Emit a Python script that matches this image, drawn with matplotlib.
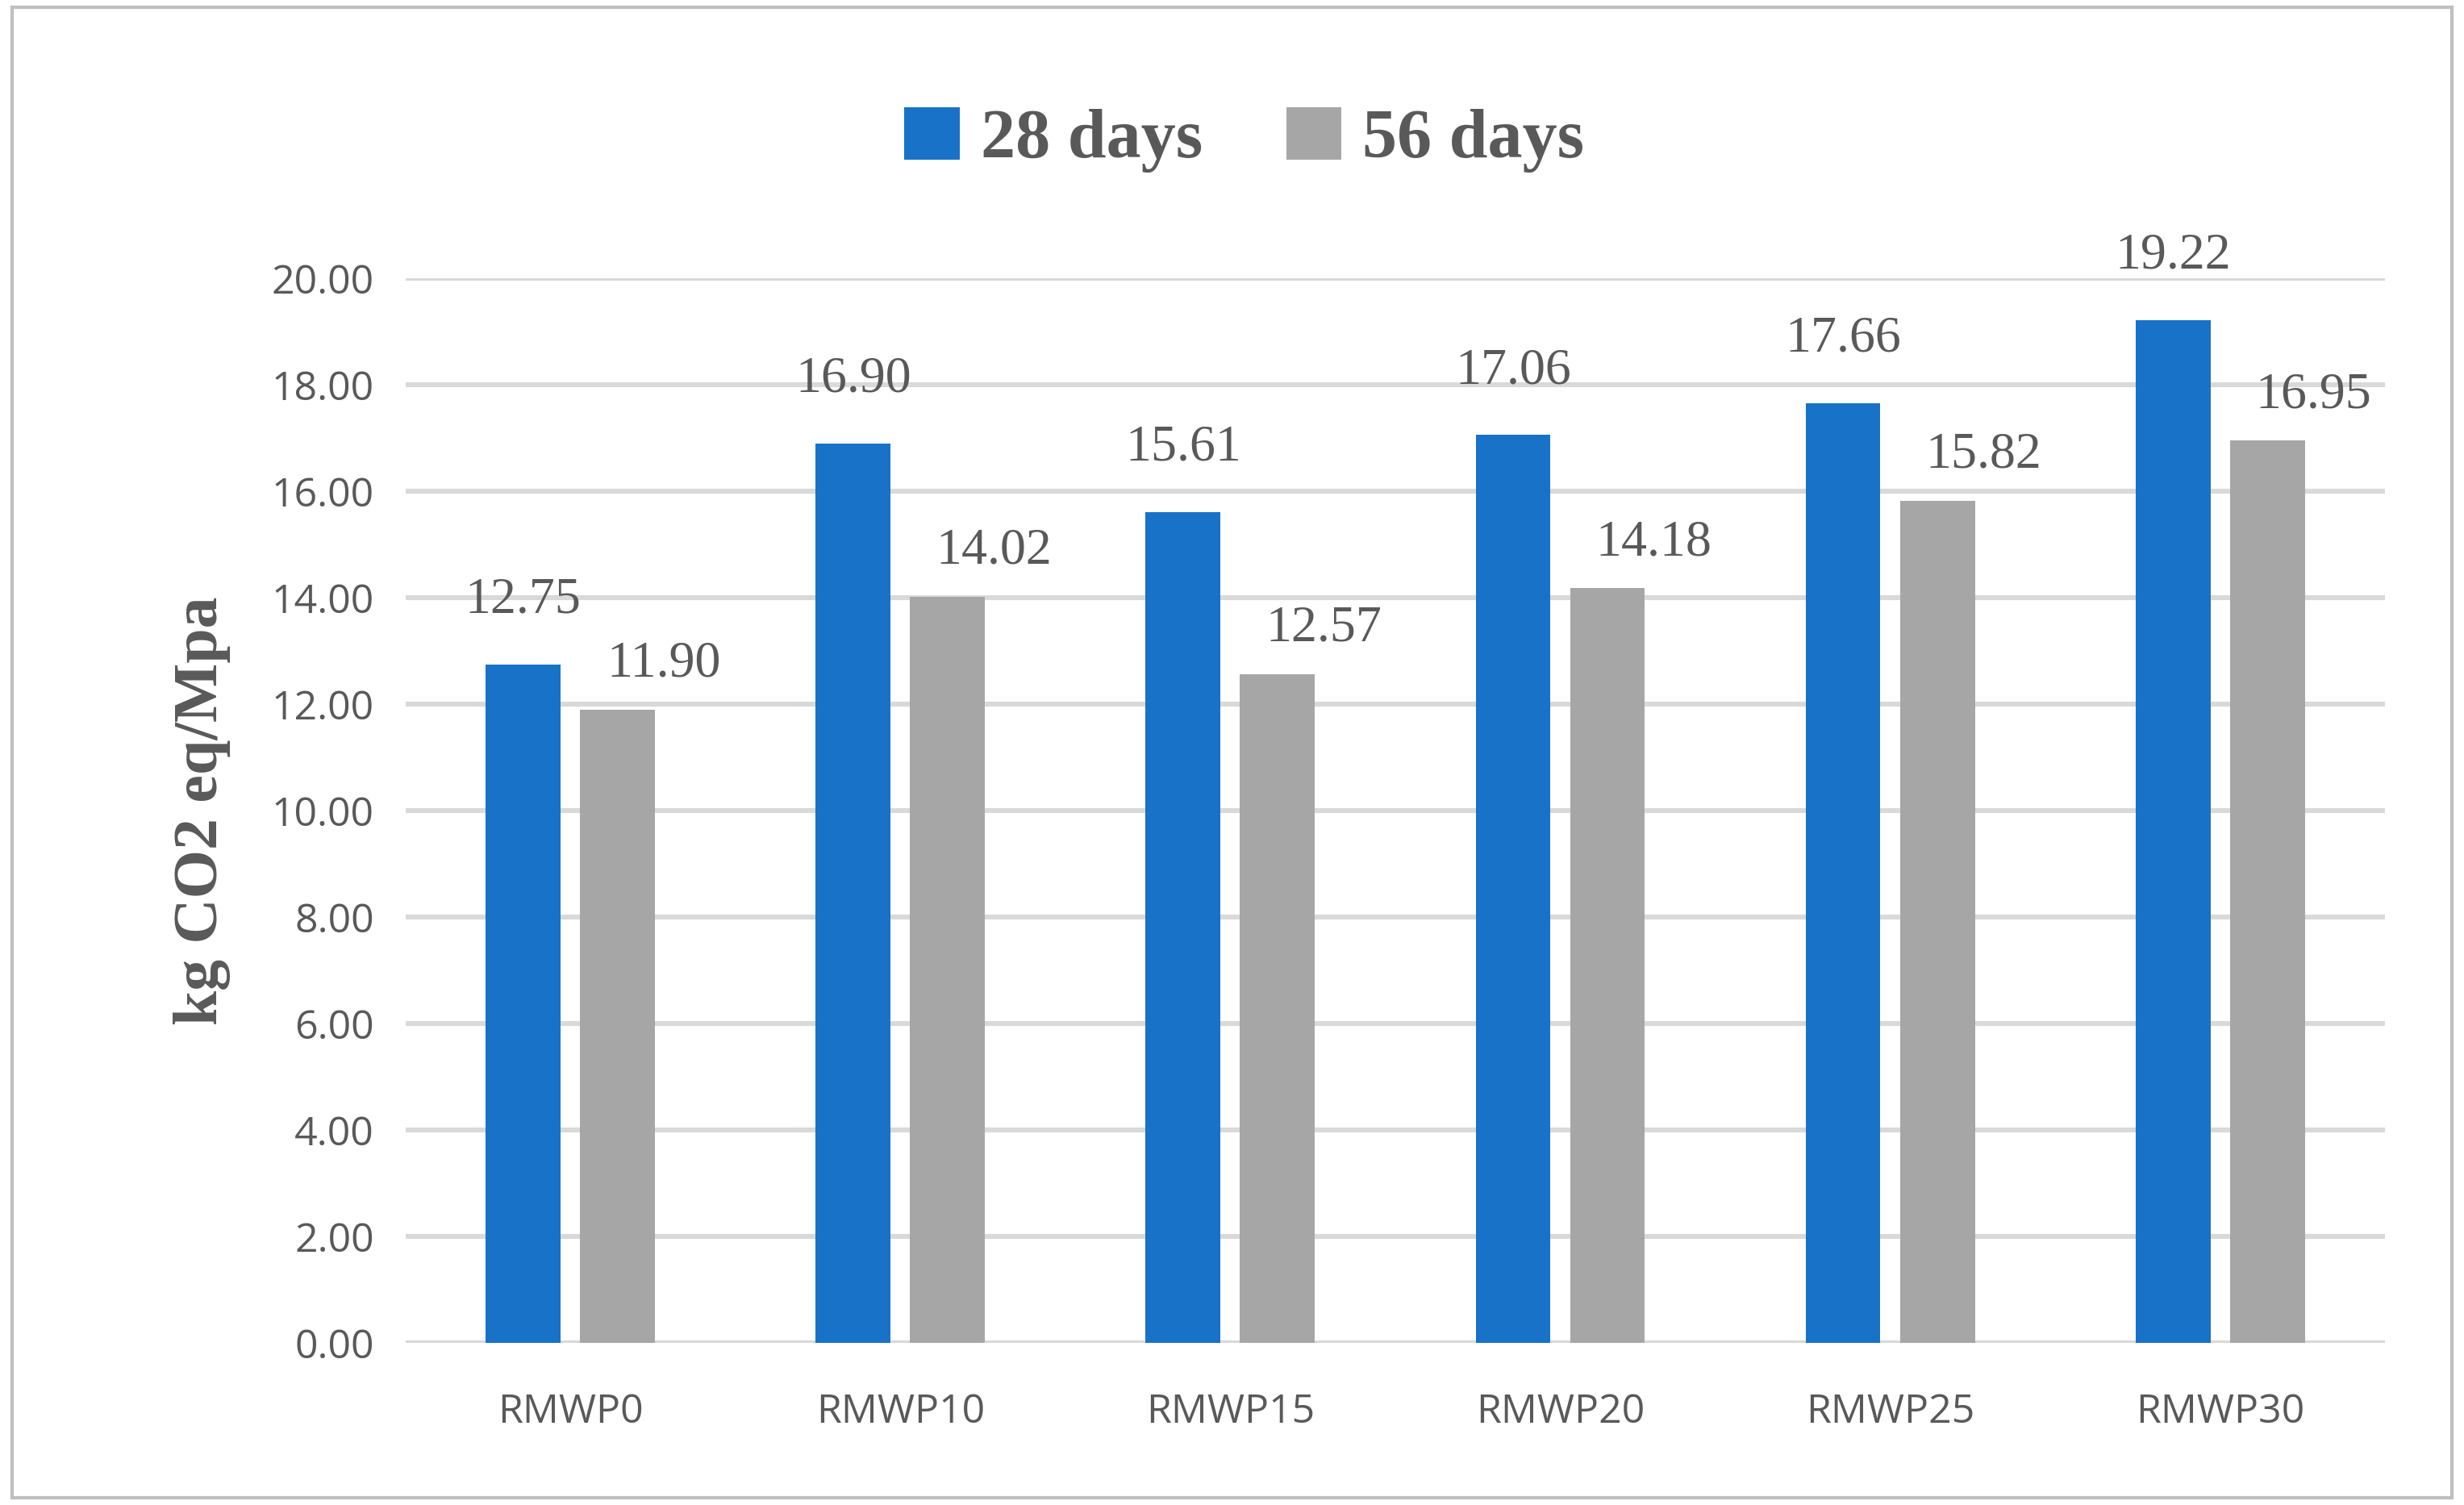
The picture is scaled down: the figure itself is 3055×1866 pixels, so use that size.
import matplotlib
matplotlib.use("Agg")
import matplotlib.pyplot as plt
from matplotlib.patches import Rectangle
import numpy as np

categories = ["RMWP0", "RMWP10", "RMWP15", "RMWP20", "RMWP25", "RMWP30"]
days28 = [12.75, 16.90, 15.61, 17.06, 17.66, 19.22]
days56 = [11.90, 14.02, 12.57, 14.18, 15.82, 16.95]
yticks = [0, 2, 4, 6, 8, 10, 12, 14, 16, 18, 20]

fig = plt.figure(figsize=(15.275, 9.33), dpi=200)
ax = fig.add_axes([0.1645, 0.1077, 0.8035, 0.7073])
x = np.arange(len(categories))
w = 0.227
off = 0.143
c1, c2 = "#1872C8", "#A6A6A6"
ax.bar(x - off, days28, w, color=c1, label="28 days", zorder=3)
ax.bar(x + off, days56, w, color=c2, label="56 days", zorder=3)
grey = "#595959"
for xi, v in zip(x, days28):
    ax.text(xi - off, v + 1.2, f"{v:.2f}", ha="center", va="center",
            family="Liberation Serif", fontsize=23, color=grey, clip_on=False)
for xi, v in zip(x, days56):
    ax.text(xi + off + 0.14, v + 0.85, f"{v:.2f}", ha="center", va="center",
            family="Liberation Serif", fontsize=23, color=grey, clip_on=False)
ax.set_xlim(-0.5, 5.5)
ax.set_ylim(0, 20)
ax.set_yticks(yticks)
ax.set_yticklabels([f"{t:.2f}" for t in yticks])
ax.set_xticks(x)
ax.set_xticklabels(categories)
for lab in ax.get_xticklabels() + ax.get_yticklabels():
    lab.set_family("Open Sans"); lab.set_fontsize(18); lab.set_color(grey)
ax.tick_params(length=0, pad=14)
ax.tick_params(axis="x", pad=22)
ax.grid(axis="y", color="#D9D9D9", linewidth=2.2, zorder=0)
for s in ax.spines.values():
    s.set_visible(False)
ax.axhline(0, color="#D9D9D9", linewidth=2.2, zorder=2)
ax.set_ylabel("kg CO2 eq/Mpa", family="Liberation Serif", fontweight="bold",
              fontsize=28, color=grey, labelpad=18)
leg = fig.legend(loc="center", bbox_to_anchor=(0.505, 0.907), ncol=2, frameon=False,
                 prop={"family": "Liberation Serif", "weight": "bold", "size": 31},
                 handlelength=0.8, handleheight=0.8, handletextpad=0.3, columnspacing=1.2)
for t in leg.get_texts():
    t.set_color(grey)
fig.patches.append(Rectangle((0.005, 0.005), 0.99, 0.99, transform=fig.transFigure,
                             fill=False, edgecolor="#BFBFBF", linewidth=1.5))
fig.savefig("out.png", dpi=200)
